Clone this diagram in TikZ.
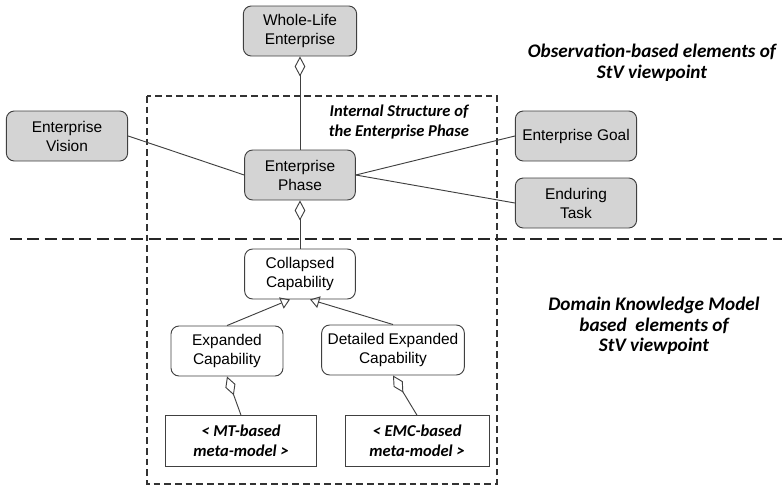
\documentclass[tikz,border=0pt]{standalone}
\usepackage{fontspec}
\setmainfont{Liberation Sans}
\newfontfamily\notefont{Carlito}
\usetikzlibrary{arrows.meta}

\begin{document}
\begin{tikzpicture}[x=0.75pt, y=-0.75pt,
		elem/.style={draw=black!75, line width=0.7pt, rounded corners=6pt, align=center, inner sep=0pt, minimum height=37.5pt, font=\fontsize{11.6}{14.25}\selectfont},
		obs/.style={elem, fill=black!17},
		dkm/.style={elem, fill=white},
		meta/.style={draw=black!75, line width=0.7pt, fill=white, align=center, inner sep=0pt, minimum height=38pt, font=\notefont\bfseries\itshape\fontsize{12.4}{15}\selectfont},
		note/.style={align=center, font=\notefont\bfseries\itshape\fontsize{14.4}{15.5}\selectfont},
		link/.style={draw=black!75, line width=0.7pt},
		aggr/.style={link, {Diamond[open, length=15pt, width=8pt]}-},
		gen/.style={link, -{Triangle[open, length=7pt, width=9pt]}}]

				\useasboundingbox (0,0) rectangle (782,486);

				% Draw boundaries
				\draw[black!80, line width=0.9pt, dash pattern=on 5pt off 3pt] (147,96) rectangle (497,484);
				\draw[black!85, line width=2.2pt, dash pattern=on 9pt off 4pt] (10,239) -- (782,239);

				% Observation-based elements
				\node[obs, minimum width=85pt] (whole) at (300,31) {Whole-Life\\Enterprise};
				\node[obs, minimum width=83pt] (phase) at (300,175) {Enterprise\\Phase};
				\node[obs, minimum width=91pt] (vision) at (67,136) {Enterprise\\Vision};
				\node[obs, minimum width=91pt] (goal) at (576,136) {Enterprise Goal};
				\node[obs, minimum width=91pt] (task) at (576,203) {Enduring\\Task};

				% Domain knowledge elements
				\node[dkm, minimum width=83pt] (coll) at (300,274) {Collapsed\\Capability};
				\node[dkm, minimum width=84pt] (exp) at (227,351) {Expanded\\Capability};
				\node[dkm, minimum width=107pt] (det) at (393,350) {Detailed Expanded\\Capability};
				\node[meta, minimum width=113pt] (mt) at (241,441) {< MT-based\\meta-model >};
				\node[meta, minimum width=108pt] (emc) at (417,441) {< EMC-based\\meta-model >};

				% Draw connectors
				\draw[aggr] (whole.south) -- (phase.north);
				\draw[link] (vision.east) -- (phase.west);
				\draw[link] (phase.east) -- (goal.west);
				\draw[link] (phase.east) -- (task.west);
				\draw[aggr] (phase.south) -- (coll.north);
				\draw[gen] (exp.north) -- ([xshift=-7.5pt]coll.south);
				\draw[gen] (det.north) -- ([xshift=7.5pt]coll.south);
				\draw[aggr] (exp.south) -- (mt.north);
				\draw[aggr] (det.south) -- (emc.north);

				% Annotations
				\node[note, font=\notefont\bfseries\itshape\fontsize{12.4}{15}\selectfont] (inner) at (399,122) {Internal Structure of\\the Enterprise Phase};
				\node[note] (obsnote) at (652,63) {Observation-based elements of\\StV viewpoint};
				\node[note] (dkmnote) at (654,326) {Domain Knowledge Model\\based\ \ elements of\\StV viewpoint};
			\end{tikzpicture}
\end{document}
